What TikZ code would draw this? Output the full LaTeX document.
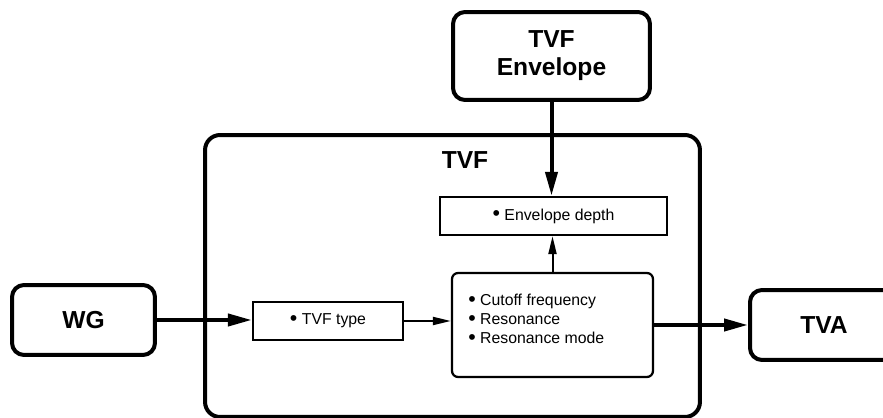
\documentclass[tikz,border=0pt]{standalone}
\usepackage{fontspec}
\setmainfont{Liberation Sans}
\usetikzlibrary{arrows.meta, positioning}

% larger bullet, as in the printed lists
\newcommand{\parbul}{\smash{\raisebox{-0.1ex}{\scalebox{1.35}{\textbullet}}}}

\begin{document}
\begin{tikzpicture}[x=0.02cm, y=-0.02cm,
    outerbox/.style={draw, line width=0.08cm, rounded corners=0.24cm, inner sep=0pt, align=center, font=\fontsize{14}{16}\selectfont\bfseries},
    parambox/.style={draw, line width=0.045cm, inner sep=0pt, font=\fontsize{9}{11}\selectfont},
    bigarrow/.style={line width=0.08cm, -{Triangle[length=0.48cm, width=0.24cm]}},
    smallarrow/.style={line width=0.04cm, -{Triangle[length=0.36cm, width=0.16cm]}}]
    % Canvas: 883 x 418 (1 unit = 1 px, y downwards)
    \useasboundingbox (0,0) rectangle (883,418);

    % TVF frame
    \node[draw, line width=0.08cm, rounded corners=0.3cm, inner sep=0pt, minimum width=9.9cm, minimum height=5.64cm] (tvf) at (452.5,276) {};
    \node[font=\fontsize{14}{16}\selectfont\bfseries] (tvflabel) at (465,160) {TVF};

    % Outer modules
    \node[outerbox, minimum width=2.86cm, minimum height=1.4cm] (wg) at (83.5,320) {WG};
    \node[outerbox, minimum width=2.96cm, minimum height=1.4cm] (tva) at (824,325) {TVA};
    \node[outerbox, minimum width=3.94cm, minimum height=1.76cm] (env) at (551.5,56) {TVF\\Envelope};

    % Parameter boxes inside TVF
    \node[parambox, minimum width=3cm, minimum height=0.76cm] (type) at (328,321) {\parbul\ TVF type};
    \node[parambox, minimum width=4.54cm, minimum height=0.76cm] (depth) at (553.5,216) {\parbul\ Envelope depth};
    \node[parambox, rounded corners=0.12cm, minimum width=4.02cm, minimum height=2.08cm] (main) at (552.5,325) {};
    \node[font=\fontsize{9}{11}\selectfont, align=left, anchor=west, inner sep=0pt] (mainlist) at (468,319)
        {\parbul\ Cutoff frequency\\ \parbul\ Resonance\\ \parbul\ Resonance mode};

    % Signal flow
    \draw[bigarrow] (wg.east) -- (wg.east -| type.west);
    \draw[smallarrow] (type.east) -- (type.east -| main.west);
    \draw[bigarrow] (main.east) -- (tva.west);
    \draw[bigarrow] (env.south) -- (env.south |- depth.north);
    \draw[smallarrow] (main.north) -- (main.north |- depth.south);

\end{tikzpicture}
\end{document}
